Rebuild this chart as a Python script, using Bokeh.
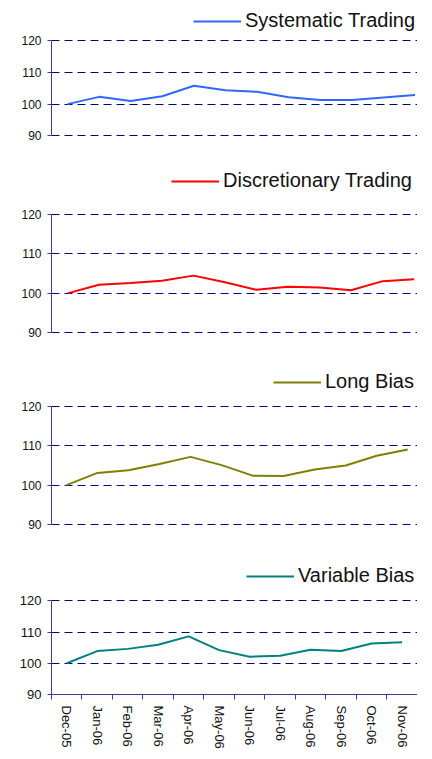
import math
from bokeh.plotting import figure
from bokeh.layouts import column
from bokeh.models import Range1d, FixedTicker, Legend, LegendItem
from bokeh.embed import file_html
from bokeh.resources import INLINE

# ---- data ----
months = ["Dec-05", "Jan-06", "Feb-06", "Mar-06", "Apr-06", "May-06",
          "Jun-06", "Jul-06", "Aug-06", "Sep-06", "Oct-06", "Nov-06"]
systematic = [100, 102.3, 101.0, 102.5, 105.8, 104.4, 103.9, 102.2, 101.3, 101.3, 102.1, 102.9]
discretionary = [100, 102.2, 102.6, 103.2, 104.5, 102.8, 100.9, 101.7, 101.5, 100.8, 103.1, 103.6]
long_bias = [100, 103.1, 103.8, 105.4, 107.2, 105.1, 102.4, 102.3, 104.0, 105.0, 107.5, 109.1]
variable_bias = [100, 103.9, 104.6, 105.9, 108.6, 104.2, 102.1, 102.4, 104.3, 103.9, 106.3, 106.7]
series_names = ["Systematic Trading", "Discretionary Trading", "Long Bias", "Variable Bias"]
y_ticks = [90, 100, 110, 120]

FONT = "Liberation Sans"
AXIS_COLOR = "#3a3a9c"
GRID_COLOR = "#000080"
LEGEND_H = 24
FIG_W = 417

# layout per panel (page pixels): figure top/bottom, where 120 and 90 sit,
# frame left/right, first point x and spacing, legend line start x and centre y
panels = [
    dict(vals=systematic, color="#3366FF", top=0, bottom=160, y120=40.3, y90=135.3,
         L=51, R=417, first=67.0, step=31.6, lx=193, lc=20, fs="12px", xaxis=False),
    dict(vals=discretionary, color="#FF0000", top=160, bottom=355, y120=214.0, y90=332.3,
         L=42, R=417, first=58.3, step=32.3, lx=162, lc=180, fs="12px", xaxis=False),
    dict(vals=long_bias, color="#808000", top=355, bottom=550, y120=406.3, y90=523.7,
         L=43, R=417, first=58.3, step=31.7, lx=265, lc=381, fs="12px", xaxis=False),
    dict(vals=variable_bias, color="#008080", top=550, bottom=751, y120=602.3, y90=699.3,
         L=40, R=417, first=55.7, step=31.4, lx=235, lc=580, fs="13px", xaxis=True),
]

idx = list(range(len(months)))
figs = []
for name, cfg in zip(series_names, panels):
    h = cfg["bottom"] - cfg["top"]
    pxu = (cfg["y90"] - cfg["y120"]) / 30.0
    if cfg["xaxis"]:
        frame_bottom = round(cfg["y90"])
        y_start = 90.0
    else:
        frame_bottom = math.ceil(cfg["y90"] + 0.6)
        y_start = 90.0 - (frame_bottom - cfg["y90"]) / pxu
    y_end = y_start + (frame_bottom - cfg["top"]) / pxu
    x0 = (cfg["L"] - cfg["first"]) / cfg["step"]
    x1 = (cfg["R"] - cfg["first"]) / cfg["step"]

    p = figure(width=FIG_W, height=h, output_backend="svg", toolbar_location=None,
               x_range=Range1d(x0, x1), y_range=Range1d(y_start, y_end),
               x_axis_location="below" if cfg["xaxis"] else None,
               min_border_top=0, min_border_bottom=cfg["bottom"] - frame_bottom,
               min_border_left=cfg["L"], min_border_right=FIG_W - cfg["R"])
    p.outline_line_color = None
    p.background_fill_color = "white"
    p.border_fill_color = "white"

    r = p.line(x=idx, y=cfg["vals"], line_color=cfg["color"], line_width=2)

    ya = p.yaxis[0]
    ya.ticker = FixedTicker(ticks=y_ticks)
    ya.bounds = (90, 120)
    ya.axis_line_color = AXIS_COLOR
    ya.major_tick_line_color = AXIS_COLOR
    ya.minor_tick_line_color = None
    ya.major_tick_out = 4
    ya.major_tick_in = 0
    ya.major_label_standoff = 6
    ya.major_label_text_font = FONT
    ya.major_label_text_font_size = cfg["fs"]
    ya.major_label_text_color = "#111111"

    p.xgrid.visible = False
    p.ygrid.grid_line_color = GRID_COLOR
    p.ygrid.grid_line_dash = "8 5"
    p.ygrid.grid_line_width = 1

    if cfg["xaxis"]:
        xa = p.xaxis[0]
        xa.ticker = FixedTicker(ticks=idx, minor_ticks=[i - 0.5 for i in range(len(months) + 1)])
        xa.major_label_overrides = {i: m for i, m in enumerate(months)}
        xa.major_label_orientation = -math.pi / 2
        xa.axis_line_color = AXIS_COLOR
        xa.major_tick_line_color = None
        xa.major_tick_out = 0
        xa.major_tick_in = 0
        xa.minor_tick_line_color = AXIS_COLOR
        xa.minor_tick_out = 5
        xa.minor_tick_in = 0
        xa.major_label_standoff = 6
        xa.major_label_text_font = FONT
        xa.major_label_text_font_size = "13px"
        xa.major_label_text_color = "#111111"

    legend = Legend(items=[LegendItem(label=name, renderers=[r])],
                    location=(cfg["lx"] - cfg["L"], frame_bottom - (cfg["lc"] + LEGEND_H / 2)),
                    orientation="horizontal",
                    glyph_width=48, glyph_height=20, label_standoff=4, label_height=20,
                    label_text_font=FONT, label_text_font_size="20px",
                    label_text_color="#111111",
                    padding=0, margin=0, spacing=0,
                    border_line_color=None, background_fill_alpha=0)
    p.add_layout(legend)
    figs.append(p)

layout = column(*figs, spacing=0)
open("out.html", "w").write(file_html(layout, INLINE))
